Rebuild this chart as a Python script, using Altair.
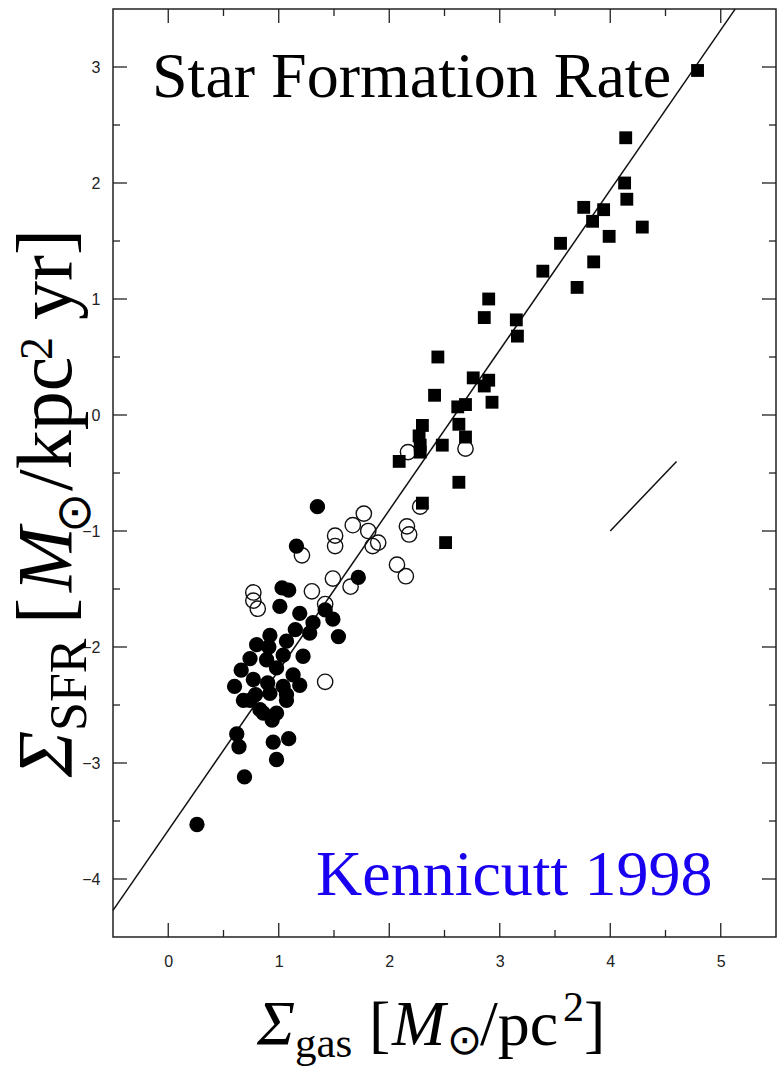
import altair as alt
import pandas as pd

# ---------------- data ----------------
# starburst galaxies (filled squares)
sq_x = [4.79, 4.14, 4.13, 4.15, 4.29, 3.76, 3.94, 3.84, 3.99, 3.55, 3.85, 3.70,
        3.39, 2.90, 2.86, 3.15, 3.16, 2.44, 2.76, 2.90, 2.86, 2.41, 2.93, 2.69,
        2.62, 2.30, 2.63, 2.27, 2.69, 2.28, 2.48, 2.28, 2.09, 2.63, 2.30, 2.51]
sq_y = [2.97, 2.39, 2.00, 1.86, 1.62, 1.79, 1.77, 1.67, 1.54, 1.48, 1.32, 1.10,
        1.24, 1.00, 0.84, 0.82, 0.68, 0.50, 0.32, 0.30, 0.25, 0.17, 0.11, 0.09,
        0.07, -0.09, -0.08, -0.18, -0.19, -0.26, -0.26, -0.32, -0.40, -0.58, -0.76, -1.10]

# normal disks (filled circles)
fc_x = [0.26, 0.69, 0.98, 0.62, 0.64, 0.95, 1.09, 0.94, 0.83, 0.68, 0.60, 1.07,
        0.92, 1.19, 0.77, 0.90, 0.74, 0.66, 0.98, 1.13, 0.74, 0.89, 1.22, 0.92,
        1.07, 1.28, 1.01, 1.19, 1.09, 1.42, 1.49, 1.54, 1.72, 1.16, 1.35, 0.86,
        0.98, 0.79, 1.04, 1.15, 0.80, 1.31, 1.03, 0.91, 1.04, 1.07]
fc_y = [-3.53, -3.12, -2.97, -2.75, -2.86, -2.82, -2.79, -2.63, -2.54, -2.46, -2.34, -2.46,
        -2.40, -2.33, -2.28, -2.31, -2.46, -2.20, -2.18, -2.24, -2.10, -2.11, -2.08, -1.90,
        -1.95, -1.88, -1.65, -1.71, -1.51, -1.68, -1.76, -1.91, -1.40, -1.13, -0.79, -2.57,
        -2.57, -2.41, -2.07, -1.85, -1.98, -1.79, -1.49, -2.00, -2.34, -2.41]

# galaxy centres (open circles)
oc_x = [1.77, 1.67, 1.81, 1.51, 1.51, 1.85, 1.90, 1.21, 2.16, 2.18, 2.28, 2.07,
        2.15, 1.49, 1.65, 1.30, 0.77, 0.77, 0.81, 1.42, 1.42, 2.17, 2.69]
oc_y = [-0.85, -0.95, -1.00, -1.04, -1.13, -1.13, -1.10, -1.21, -0.96, -1.03, -0.79, -1.29,
        -1.39, -1.41, -1.48, -1.52, -1.53, -1.60, -1.67, -1.63, -2.30, -0.32, -0.29]

# Schmidt law fit
fit_slope = 1.38
fit_icpt = -3.58
fit_x = [-0.5, 5.13]
# slope-1 reference segment
seg_x = [4.0, 4.6]
seg_y = [-1.0, -0.4]

x_major = [0, 1, 2, 3, 4, 5]
x_minor = [0.5, 1.5, 2.5, 3.5, 4.5]
y_major = [-4, -3, -2, -1, 0, 1, 2, 3]
y_minor = [-3.5, -2.5, -1.5, -0.5, 0.5, 1.5, 2.5]

# ---------------- layout ----------------
W, H = 663, 928
L0, T0 = 113, 9          # plot origin in page pixels
MAJ, MIN = 14, 7

xs = alt.Scale(domain=[-0.5, 5.5], nice=False, zero=False)
ys = alt.Scale(domain=[-4.5, 3.5], nice=False, zero=False)
lab_font = "Liberation Sans"
x_axis = alt.Axis(values=x_major, format="d", ticks=False, domain=False, grid=False,
                  labelFont=lab_font, labelFontSize=16, labelColor="#222",
                  labelPadding=16, title=None)
y_axis = alt.Axis(values=y_major, format="d", ticks=False, domain=False, grid=False,
                  labelFont=lab_font, labelFontSize=16, labelColor="#222",
                  labelPadding=13, title=None)

def X(field="x"):
    return alt.X(f"{field}:Q", scale=xs, axis=x_axis)

def Y(field="y"):
    return alt.Y(f"{field}:Q", scale=ys, axis=y_axis)

df_sq = pd.DataFrame({"x": sq_x, "y": sq_y})
df_fc = pd.DataFrame({"x": fc_x, "y": fc_y})
df_oc = pd.DataFrame({"x": oc_x, "y": oc_y})
df_fit = pd.DataFrame({"x": fit_x, "y": [fit_slope * v + fit_icpt for v in fit_x]})
df_seg = pd.DataFrame({"x": seg_x, "y": seg_y})

fit = alt.Chart(df_fit).mark_line(color="#111", strokeWidth=1.5).encode(x=X(), y=Y())
seg = alt.Chart(df_seg).mark_line(color="#111", strokeWidth=1.5).encode(x=X(), y=Y())
oc = alt.Chart(df_oc).mark_point(shape="circle", filled=False, color="#111",
                                 strokeWidth=1.4, size=235, opacity=1).encode(x=X(), y=Y())
fc = alt.Chart(df_fc).mark_point(shape="circle", filled=True, color="#000",
                                 size=235, opacity=1).encode(x=X(), y=Y())
sq = alt.Chart(df_sq).mark_point(shape="square", filled=True, color="#000",
                                 size=165, opacity=1).encode(x=X(), y=Y())

# inward tick marks on all four sides
def xticks(vals, length):
    d = pd.DataFrame({"x": vals})
    b = alt.Chart(d).mark_rule(color="#222", strokeWidth=1.3).encode(
        x=X(), y=alt.value(H), y2=alt.value(H - length))
    t = alt.Chart(d).mark_rule(color="#222", strokeWidth=1.3).encode(
        x=X(), y=alt.value(0), y2=alt.value(length))
    return b + t

def yticks(vals, length):
    d = pd.DataFrame({"y": vals})
    l = alt.Chart(d).mark_rule(color="#222", strokeWidth=1.3).encode(
        y=Y(), x=alt.value(0), x2=alt.value(length))
    r = alt.Chart(d).mark_rule(color="#222", strokeWidth=1.3).encode(
        y=Y(), x=alt.value(W), x2=alt.value(W - length))
    return l + r

ticks = xticks(x_major, MAJ) + xticks(x_minor, MIN) + yticks(y_major, MAJ) + yticks(y_minor, MIN)

def label(text, px, py, size, color="black", font="Liberation Serif", style="normal",
          angle=0, align="left"):
    kw = dict(text=text, font=font, fontSize=size, color=color, fontStyle=style,
              align=align, baseline="alphabetic")
    if angle:
        kw["angle"] = angle
    return alt.Chart(pd.DataFrame({"d": [0]})).mark_text(**kw).encode(
        x=alt.value(px - L0), y=alt.value(py - T0))

texts = [
    label("Star Formation Rate", 152, 97, 64),
    label("Kennicutt 1998", 316, 895, 64, color="#1a00f0"),
]

# x-axis title: Σ_gas [M⊙/pc²]
fx = 64
texts += [
    label("Σ", 257, 1045, fx, style="italic"),
    label("gas", 295, 1057, 43),
    label("[", 369, 1045, fx),
    label("M", 392, 1045, fx, style="italic"),
    label("⊙", 447, 1054, 42, font="DejaVu Sans"),
    label("/pc", 480, 1045, fx),
    label("2", 563, 1021, 42),
    label("]", 584, 1045, fx),
]

# y-axis title: Σ_SFR [M⊙/kpc² yr] (rotated)
fy = 78
texts += [
    label("Σ", 71, 777, fy, style="italic", angle=270),
    label("SFR", 86, 731, 52, angle=270),
    label("[", 71, 624, fy, angle=270),
    label("M", 71, 592, fy, style="italic", angle=270),
    label("⊙", 90, 533, 48, font="DejaVu Sans", angle=270),
    label("/kpc", 71, 491, fy, angle=270),
    label("2", 52, 360, 46, angle=270),
    label("yr", 71, 320, fy, angle=270),
    label("]", 71, 255, fy, angle=270),
]

chart = alt.layer(ticks, fit, seg, oc, fc, sq, *texts).properties(
    width=W, height=H,
    autosize=alt.AutoSizeParams(type="none"),
    padding={"left": L0, "top": T0, "right": 777 - L0 - W, "bottom": 1068 - T0 - H},
    background="white",
).configure_view(stroke="#222", strokeWidth=1.5)

chart.save("out.html", embed_options={"renderer": "svg", "actions": False})
